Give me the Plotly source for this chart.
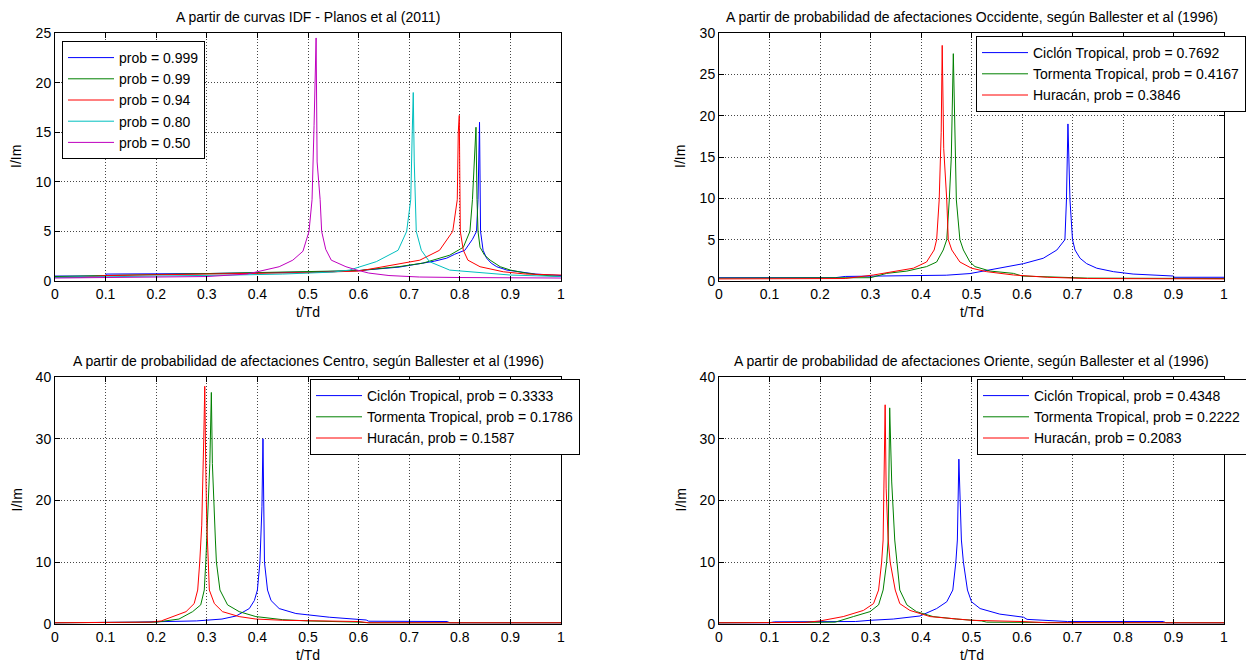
import plotly.graph_objects as go

# The page body adds an 8px margin; the figure is laid out in screenshot pixels shifted by it.
OFF = 8
W, H = 1254 - OFF, 665 - OFF
FONT = "Liberation Sans, Arial, sans-serif"
FS = 14

# ---------------- data ----------------
# Panel 1: IDF curves (Planos et al 2011)
p1_labels = ["prob = 0.999", "prob = 0.99", "prob = 0.94", "prob = 0.80", "prob = 0.50"]
p1_b_x = [0, 0.1, 0.101, 0.3, 0.5, 0.6, 0.68, 0.72, 0.75, 0.774, 0.79, 0.81, 0.825, 0.833, 0.836, 0.839, 0.841, 0.846, 0.853, 0.862, 0.873, 0.893, 0.92, 0.95, 1.0]
p1_b_y = [0.5, 0.5, 0.7, 0.75, 0.9, 1.05, 1.4, 1.7, 2.0, 2.3, 2.7, 3.1, 4.2, 5.0, 8.2, 16.0, 5.0, 3.1, 2.3, 1.8, 1.44, 1.1, 0.9, 0.7, 0.55]
p1_g_x = [0, 0.1, 0.3, 0.5, 0.6, 0.68, 0.727, 0.747, 0.78, 0.807, 0.82, 0.825, 0.83, 0.832, 0.834, 0.836, 0.84, 0.849, 0.86, 0.88, 0.9, 0.93, 0.96, 1.0]
p1_g_y = [0.45, 0.55, 0.7, 0.9, 1.05, 1.45, 1.8, 2.1, 2.6, 3.4, 5.0, 8.2, 13.0, 15.5, 8.2, 5.0, 3.4, 2.6, 2.1, 1.44, 1.1, 0.8, 0.6, 0.45]
p1_r_x = [0, 0.05, 0.1, 0.3, 0.5, 0.6, 0.648, 0.695, 0.721, 0.76, 0.786, 0.795, 0.797, 0.799, 0.8, 0.801, 0.807, 0.816, 0.84, 0.886, 0.93, 1.0]
p1_r_y = [0.35, 0.35, 0.55, 0.7, 0.85, 1.0, 1.44, 1.8, 2.1, 3.1, 5.0, 8.2, 15.0, 16.7, 8.2, 5.0, 3.1, 2.1, 1.44, 0.93, 0.7, 0.6]
p1_c_x = [0, 0.05, 0.2, 0.35, 0.45, 0.55, 0.582, 0.635, 0.678, 0.695, 0.703, 0.706, 0.708, 0.71, 0.712, 0.714, 0.724, 0.74, 0.78, 0.82, 0.86, 0.9, 1.0]
p1_c_y = [0.35, 0.4, 0.5, 0.6, 0.7, 0.9, 1.1, 1.95, 3.1, 5.0, 8.2, 15.0, 19.0, 12.0, 8.2, 5.0, 3.1, 1.95, 1.1, 0.93, 0.75, 0.6, 0.45]
p1_m_x = [0, 0.15, 0.3, 0.38, 0.417, 0.443, 0.47, 0.49, 0.502, 0.508, 0.512, 0.516, 0.518, 0.524, 0.527, 0.535, 0.546, 0.575, 0.597, 0.62, 0.66, 0.72, 0.8, 0.9, 1.0]
p1_m_y = [0.3, 0.35, 0.45, 0.7, 1.1, 1.44, 2.1, 3.0, 5.0, 8.2, 15.7, 24.5, 12.0, 8.2, 5.0, 3.2, 2.1, 1.44, 1.1, 0.8, 0.55, 0.4, 0.35, 0.3, 0.3]

# Panel 2: Occidente
p2_labels = ["Ciclón Tropical, prob = 0.7692", "Tormenta Tropical, prob = 0.4167", "Huracán, prob = 0.3846"]
p2_b_x = [0, 0.23, 0.25, 0.45, 0.497, 0.556, 0.603, 0.642, 0.669, 0.685, 0.688, 0.691, 0.693, 0.695, 0.7, 0.705, 0.715, 0.728, 0.748, 0.781, 0.82, 0.9, 0.901, 1.0]
p2_b_y = [0.4, 0.4, 0.55, 0.7, 0.9, 1.55, 2.1, 2.75, 3.75, 5.0, 9.8, 19.0, 12.0, 9.8, 5.0, 3.75, 2.75, 2.1, 1.55, 1.13, 0.84, 0.6, 0.45, 0.45]
p2_g_x = [0, 0.3, 0.332, 0.372, 0.411, 0.431, 0.444, 0.451, 0.456, 0.46, 0.464, 0.466, 0.47, 0.477, 0.484, 0.497, 0.507, 0.537, 0.583, 0.6, 0.65, 0.73, 1.0]
p2_g_y = [0.35, 0.4, 0.92, 1.2, 1.74, 2.3, 3.75, 5.0, 9.8, 15.0, 27.5, 21.0, 9.8, 5.0, 3.75, 2.3, 1.74, 1.2, 0.92, 0.6, 0.5, 0.35, 0.3]
p2_r_x = [0, 0.25, 0.306, 0.345, 0.385, 0.411, 0.426, 0.431, 0.436, 0.44, 0.442, 0.445, 0.451, 0.454, 0.461, 0.477, 0.5, 0.53, 0.583, 0.65, 0.73, 1.0]
p2_r_y = [0.25, 0.3, 0.73, 1.13, 1.55, 2.3, 3.75, 5.0, 9.8, 18.0, 28.5, 16.0, 9.8, 5.0, 3.75, 2.3, 1.55, 1.13, 0.73, 0.45, 0.3, 0.25]

# Panel 3: Centro
p3_labels = ["Ciclón Tropical, prob = 0.3333", "Tormenta Tropical, prob = 0.1786", "Huracán, prob = 0.1587"]
p3_b_x = [0, 0.15, 0.16, 0.28, 0.33, 0.358, 0.384, 0.394, 0.4, 0.405, 0.409, 0.411, 0.413, 0.414, 0.42, 0.427, 0.443, 0.476, 0.542, 0.615, 0.62, 0.775, 0.78, 1.0]
p3_b_y = [0.2, 0.2, 0.3, 0.5, 0.8, 1.3, 2.5, 3.8, 5.5, 10.0, 19.0, 30.0, 19.0, 10.0, 5.5, 3.8, 2.5, 1.7, 1.1, 0.65, 0.45, 0.4, 0.2, 0.2]
p3_g_x = [0, 0.2, 0.245, 0.272, 0.288, 0.295, 0.298, 0.3, 0.306, 0.309, 0.311, 0.317, 0.319, 0.326, 0.341, 0.364, 0.397, 0.45, 0.5, 0.6, 0.62, 1.0]
p3_g_y = [0.2, 0.3, 0.8, 2.0, 3.1, 5.5, 10.0, 13.6, 26.0, 37.5, 26.0, 13.6, 10.0, 5.5, 3.1, 2.0, 1.2, 0.7, 0.5, 0.3, 0.2, 0.2]
p3_r_x = [0, 0.19, 0.21, 0.232, 0.259, 0.275, 0.282, 0.286, 0.29, 0.294, 0.296, 0.298, 0.3, 0.303, 0.305, 0.315, 0.331, 0.364, 0.397, 0.45, 0.6, 0.62, 1.0]
p3_r_y = [0.2, 0.3, 0.5, 1.2, 2.0, 3.3, 5.5, 10.0, 16.0, 30.0, 38.5, 25.0, 16.0, 10.0, 5.5, 3.3, 2.0, 1.2, 0.8, 0.6, 0.4, 0.2, 0.2]

# Panel 4: Oriente
p4_labels = ["Ciclón Tropical, prob = 0.4348", "Tormenta Tropical, prob = 0.2222", "Huracán, prob = 0.2083"]
p4_b_x = [0, 0.1, 0.11, 0.27, 0.3, 0.345, 0.398, 0.431, 0.451, 0.463, 0.469, 0.472, 0.475, 0.477, 0.48, 0.484, 0.492, 0.5, 0.517, 0.556, 0.603, 0.61, 0.68, 0.69, 0.88, 0.885, 1.0]
p4_b_y = [0.2, 0.2, 0.35, 0.4, 0.6, 0.8, 1.3, 2.5, 3.6, 5.5, 10.0, 13.6, 26.7, 20.0, 13.6, 10.0, 5.5, 3.6, 2.5, 1.6, 1.1, 0.75, 0.5, 0.4, 0.4, 0.2, 0.2]
p4_g_x = [0, 0.23, 0.266, 0.299, 0.316, 0.325, 0.332, 0.335, 0.338, 0.342, 0.348, 0.352, 0.358, 0.372, 0.391, 0.424, 0.47, 0.52, 0.53, 0.65, 1.0]
p4_g_y = [0.2, 0.3, 1.2, 2.0, 3.1, 5.5, 10.0, 13.6, 35.0, 23.0, 13.6, 10.0, 5.5, 3.1, 2.0, 1.2, 0.8, 0.5, 0.3, 0.25, 0.2]
p4_r_x = [0, 0.17, 0.2, 0.246, 0.286, 0.306, 0.316, 0.322, 0.325, 0.329, 0.331, 0.335, 0.339, 0.349, 0.358, 0.378, 0.418, 0.464, 0.5, 0.6, 0.65, 1.0]
p4_r_y = [0.2, 0.25, 0.5, 1.2, 2.2, 3.3, 5.5, 10.0, 13.6, 35.5, 22.0, 13.6, 10.0, 5.5, 3.3, 2.2, 1.2, 0.8, 0.6, 0.4, 0.2, 0.2]

titles = [
    "A partir de curvas IDF - Planos et al (2011)",
    "A partir de probabilidad de afectaciones Occidente, según Ballester et al (1996)",
    "A partir de probabilidad de afectaciones Centro, según Ballester et al (1996)",
    "A partir de probabilidad de afectaciones Oriente, según Ballester et al (1996)",
]
x_ticks = [0, 0.1, 0.2, 0.3, 0.4, 0.5, 0.6, 0.7, 0.8, 0.9, 1]
y_ranges = [[0, 25], [0, 30], [0, 40], [0, 40]]
y_dticks = [5, 5, 10, 10]
x_label = "t/Td"
y_label = "I/Im"

# ---------------- styling / layout ----------------
BLUE, GREEN, RED = "rgb(0,0,255)", "rgb(0,128,0)", "rgb(255,0,0)"
CYAN, MAGENTA = "rgb(0,191,191)", "rgb(191,0,191)"

# screenshot-pixel boxes of the four axes: (left, right, top, bottom)
boxes = [(55, 561, 33, 281), (719, 1224, 33, 281), (55, 561, 377, 624), (719, 1224, 377, 624)]
legend_pos = [(62, 41), (976, 36), (310, 379), (977, 379)]

def px_x(v):
    return (v - OFF) / W

def px_y(v):
    return 1 - (v - OFF) / H

panels = [
    [(p1_b_x, p1_b_y, BLUE), (p1_g_x, p1_g_y, GREEN), (p1_r_x, p1_r_y, RED), (p1_c_x, p1_c_y, CYAN), (p1_m_x, p1_m_y, MAGENTA)],
    [(p2_b_x, p2_b_y, BLUE), (p2_g_x, p2_g_y, GREEN), (p2_r_x, p2_r_y, RED)],
    [(p3_b_x, p3_b_y, BLUE), (p3_g_x, p3_g_y, GREEN), (p3_r_x, p3_r_y, RED)],
    [(p4_b_x, p4_b_y, BLUE), (p4_g_x, p4_g_y, GREEN), (p4_r_x, p4_r_y, RED)],
]
labels = [p1_labels, p2_labels, p3_labels, p4_labels]

fig = go.Figure()
layout = dict(
    width=W, height=H, margin=dict(l=0, r=0, t=0, b=0, autoexpand=False),
    paper_bgcolor="white", plot_bgcolor="white",
    font=dict(family=FONT, size=FS, color="black"),
    annotations=[],
)

for i, (traces, labs) in enumerate(zip(panels, labels)):
    n = i + 1
    xa = "x" if n == 1 else f"x{n}"
    ya = "y" if n == 1 else f"y{n}"
    lg = "legend" if n == 1 else f"legend{n}"
    for j, ((xs, ys, col), lab) in enumerate(zip(traces, labs)):
        fig.add_trace(go.Scatter(
            x=xs, y=ys, mode="lines", name=lab,
            line=dict(color=col, width=1),
            xaxis=xa, yaxis=ya, legend=lg, legendgroup=f"g{n}_{j}",
        ))
    l, r, t, b = boxes[i]
    axcommon = dict(
        showline=True, linecolor="black", linewidth=1, mirror="ticks",
        ticks="inside", ticklen=5, tickcolor="black", tickwidth=1,
        showgrid=True, gridcolor="rgb(70,70,70)", griddash="1px,2px", gridwidth=1,
        zeroline=False, automargin=False,
        tickfont=dict(family=FONT, size=FS, color="black"),
    )
    layout["xaxis" + ("" if n == 1 else str(n))] = dict(
        axcommon, domain=[px_x(l), px_x(r)], range=[0, 1], tickvals=x_ticks,
        anchor=ya,
    )
    layout["yaxis" + ("" if n == 1 else str(n))] = dict(
        axcommon, domain=[px_y(b), px_y(t)], range=y_ranges[i], dtick=y_dticks[i],
        tick0=0, anchor=xa,
    )
    lx, ly = legend_pos[i]
    layout[lg] = dict(
        x=px_x(lx), y=px_y(ly), xanchor="left", yanchor="top",
        bgcolor="white", bordercolor="black", borderwidth=1,
        font=dict(family=FONT, size=FS, color="black"),
        traceorder="grouped", tracegroupgap=0, itemwidth=46,
    )
    cx = (l + r) / 2
    layout["annotations"].append(dict(
        text=titles[i], x=px_x(cx), y=px_y(t - 16), xref="paper", yref="paper",
        showarrow=False, xanchor="center", yanchor="middle",
        font=dict(family=FONT, size=FS, color="black"),
    ))
    layout["annotations"].append(dict(
        text=x_label, x=px_x(cx), y=px_y(b + 31), xref="paper", yref="paper",
        showarrow=False, xanchor="center", yanchor="middle",
        font=dict(family=FONT, size=FS, color="black"),
    ))
    layout["annotations"].append(dict(
        text=y_label, x=px_x(l - 39), y=px_y((t + b) / 2), xref="paper", yref="paper",
        showarrow=False, xanchor="center", yanchor="middle", textangle=-90,
        font=dict(family=FONT, size=FS, color="black"),
    ))

fig.update_layout(**layout)
fig.write_html("out.html")
